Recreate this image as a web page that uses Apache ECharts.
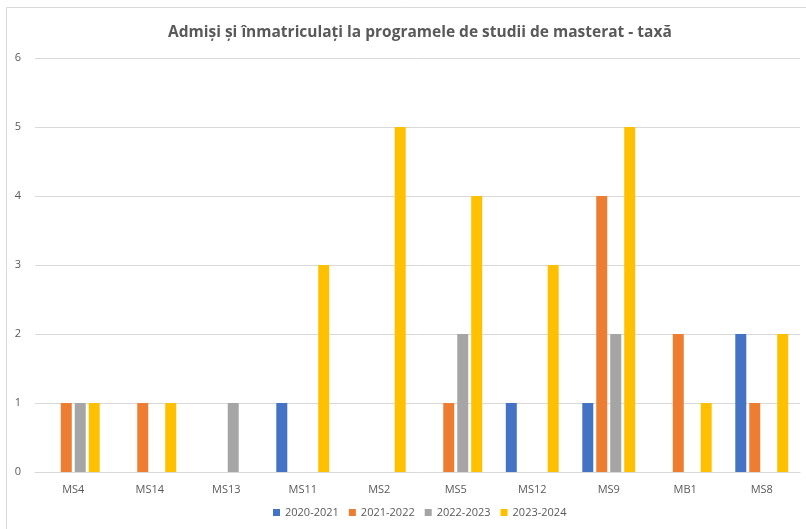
<!DOCTYPE html>
<html><head><meta charset="utf-8">
<script src="https://cdn.jsdelivr.net/npm/echarts@6/dist/echarts.min.js"></script>
<style>html,body{margin:0;padding:0;background:#fff}#c{width:806px;height:529px}</style>
</head><body><div id="c"></div>
<script>
const categories = ['MS4','MS14','MS13','MS11','MS2','MS5','MS12','MS9','MB1','MS8'];
const seriesNames = ['2020-2021','2021-2022','2022-2023','2023-2024'];
const s2020 = [0,0,0,1,0,0,1,1,0,2];
const s2021 = [1,1,0,0,0,1,0,4,2,1];
const s2022 = [1,0,1,0,0,2,0,2,0,0];
const s2023 = [1,1,0,3,5,4,3,5,1,2];
const yTicks = [0,1,2,3,4,5,6];
const colors = ['#4472C4','#ED7D31','#A5A5A5','#FFC000'];
const allData = [s2020,s2021,s2022,s2023];
const font = 'Open Sans, Liberation Sans, sans-serif';
const chart = echarts.init(document.getElementById('c'), null, {renderer:'canvas'});
chart.setOption({
  animation:false,
  color: colors,
  title:{text:'Admiși și înmatriculați la programele de studii de masterat - taxă',left:163,top:20,
    textStyle:{color:'#595959',fontSize:15.5,fontWeight:'bold',fontFamily:font}},
  graphic:[{type:'rect',shape:{x:6.5,y:7.5,width:900,height:600},style:{fill:'none',stroke:'#d9d9d9',lineWidth:1},silent:true}],
  legend:{bottom:6,left:268,itemWidth:7,itemHeight:7,itemGap:10,icon:'rect',
    textStyle:{color:'#595959',fontSize:11,fontFamily:font},data:seriesNames},
  grid:{left:35,right:6,top:58,bottom:57,containLabel:false},
  xAxis:{type:'category',data:categories,
    axisLine:{lineStyle:{color:'#d9d9d9'}},axisTick:{show:false},
    axisLabel:{color:'#595959',fontSize:11,fontFamily:font,margin:12}},
  yAxis:{type:'value',min:yTicks[0],max:yTicks[yTicks.length-1],interval:1,
    axisLine:{show:false},axisTick:{show:false},
    splitLine:{lineStyle:{color:'#d9d9d9'}},
    axisLabel:{color:'#595959',fontSize:11,fontFamily:font,margin:14}},
  series: seriesNames.map((n,i)=>({name:n,type:'bar',data:allData[i].map(v=>v===0?null:v),
    barWidth:11,barGap:'27%',barCategoryGap:'29%',itemStyle:{color:colors[i]}}))
});
</script></body></html>
